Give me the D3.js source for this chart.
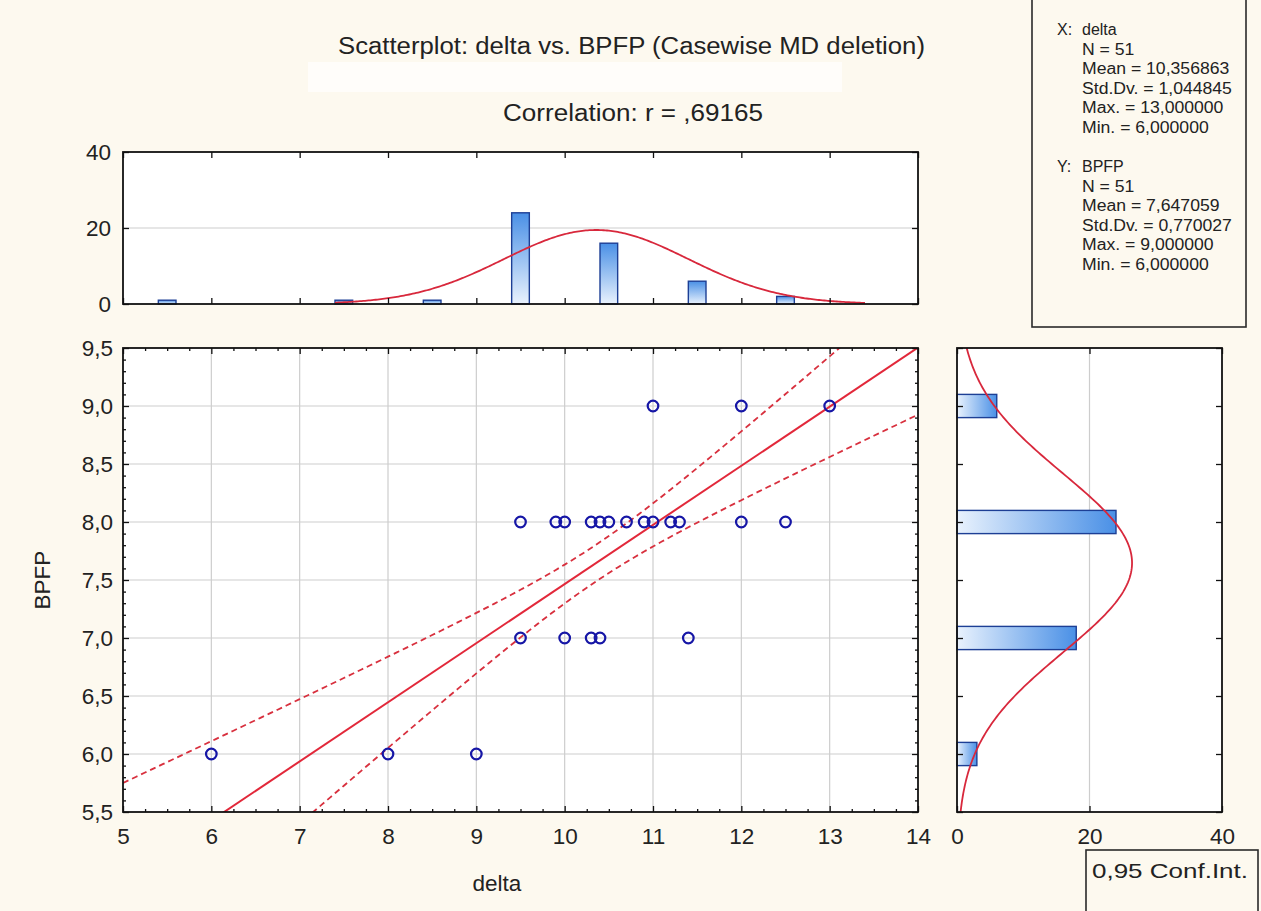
<!DOCTYPE html>
<html><head><meta charset="utf-8">
<script src="https://cdn.jsdelivr.net/npm/d3@7"></script>
<style>
html,body{margin:0;padding:0;background:#fdf9ef;}
svg{display:block;}
text{font-family:"Liberation Sans",Arial,sans-serif;fill:#222;}
</style></head><body>
<svg id="c" width="1261" height="911"></svg>
<script>
// ---------------- data ----------------
const titleText = "Scatterplot: delta vs. BPFP (Casewise MD deletion)";
const corrText = "Correlation: r = ,69165";
const xLabel = "delta";
const yLabel = "BPFP";
const confText = "0,95 Conf.Int.";

const deltaTicks = [5, 6, 7, 8, 9, 10, 11, 12, 13, 14];
const bpfpTicks = [5.5, 6, 6.5, 7, 7.5, 8, 8.5, 9, 9.5];
const countTicks = [0, 20, 40];

const pointDelta = [6, 8, 9,
  9.5, 10, 10.3, 10.4, 11.4,
  9.5, 9.9, 10, 10.3, 10.4, 10.5, 10.7, 10.9, 11, 11.2, 11.3, 12, 12.5,
  11, 12, 13];
const pointBPFP = [6, 6, 6,
  7, 7, 7, 7, 7,
  8, 8, 8, 8, 8, 8, 8, 8, 8, 8, 8, 8, 8,
  9, 9, 9];

const deltaBinCenters = [5.5, 7.5, 8.5, 9.5, 10.5, 11.5, 12.5];
const deltaBinCounts = [1, 1, 1, 24, 16, 6, 2];
const bpfpBinCenters = [6, 7, 8, 9];
const bpfpBinCounts = [3, 18, 24, 6];

const nCases = 51;
const deltaMean = 10.356863, deltaSD = 1.044845;
const bpfpMean = 7.647059, bpfpSD = 0.770027;
const rValue = 0.69165;
const tCrit = 2.0096; // t(0.975, df=49)
const deltaCurveRange = [7.4, 13.4];

const xStatsHead = ["X:", "delta"];
const xStatsLines = ["N = 51", "Mean = 10,356863", "Std.Dv. = 1,044845", "Max. = 13,000000", "Min. = 6,000000"];
const yStatsHead = ["Y:", "BPFP"];
const yStatsLines = ["N = 51", "Mean = 7,647059", "Std.Dv. = 0,770027", "Max. = 9,000000", "Min. = 6,000000"];

// ---------------- layout ----------------
const svg = d3.select("#c");
const M = {x0: 123, x1: 918, y0: 348, y1: 812};
const T = {y0: 152, y1: 304};
const R = {x0: 957, x1: 1222};

const xS = d3.scaleLinear().domain([5, 14]).range([M.x0, M.x1]);
const yS = d3.scaleLinear().domain([5.5, 9.5]).range([M.y1, M.y0]);
const tY = d3.scaleLinear().domain([0, 40]).range([T.y1, T.y0]);
const rX = d3.scaleLinear().domain([0, 40]).range([R.x0, R.x1]);

const comma = v => d3.format(".1f")(v).replace(".", ",");
const RED = "#e2283a";
const GRID = "#cdcdcd";
const FS = 22.5;

const defs = svg.append("defs");
const gV = defs.append("linearGradient").attr("id", "gv").attr("x1", 0).attr("y1", 0).attr("x2", 0).attr("y2", 1);
gV.append("stop").attr("offset", "0%").attr("stop-color", "#4a90e6");
gV.append("stop").attr("offset", "100%").attr("stop-color", "#e9f2fd");
const gH = defs.append("linearGradient").attr("id", "gh").attr("x1", 0).attr("y1", 0).attr("x2", 1).attr("y2", 0);
gH.append("stop").attr("offset", "0%").attr("stop-color", "#e9f2fd");
gH.append("stop").attr("offset", "100%").attr("stop-color", "#4a90e6");
defs.append("clipPath").attr("id", "clipM").append("rect")
  .attr("x", M.x0).attr("y", M.y0).attr("width", M.x1 - M.x0).attr("height", M.y1 - M.y0);
defs.append("clipPath").attr("id", "clipR").append("rect")
  .attr("x", R.x0).attr("y", M.y0).attr("width", R.x1 - R.x0).attr("height", M.y1 - M.y0);
defs.append("clipPath").attr("id", "clipT").append("rect")
  .attr("x", M.x0).attr("y", T.y0).attr("width", M.x1 - M.x0).attr("height", T.y1 - T.y0);

// ---------------- titles ----------------
svg.append("rect").attr("x", 308).attr("y", 62).attr("width", 534).attr("height", 30).attr("fill", "#ffffff").attr("opacity", 0.7);
svg.append("text").attr("x", 338).attr("y", 54).attr("font-size", 23)
  .attr("textLength", 587).attr("lengthAdjust", "spacingAndGlyphs").text(titleText);
svg.append("text").attr("x", 503).attr("y", 121).attr("font-size", 23)
  .attr("textLength", 260).attr("lengthAdjust", "spacingAndGlyphs").text(corrText);

// ---------------- stats box ----------------
svg.append("rect").attr("x", 1032).attr("y", -3).attr("width", 214).attr("height", 330)
  .attr("fill", "#fdf9ef").attr("stroke", "#2a2a2a").attr("stroke-width", 1.6);
function statBlock(head, lines, y0) {
  svg.append("text").attr("x", 1057).attr("y", y0).attr("font-size", 16).text(head[0]);
  svg.append("text").attr("x", 1082).attr("y", y0).attr("font-size", 16).text(head[1]);
  lines.forEach((s, i) => {
    const t = svg.append("text").attr("x", 1082).attr("y", y0 + 19.6 * (i + 1)).attr("font-size", 16).text(s);
    const w = t.node().getComputedTextLength();
    t.attr("textLength", w * 1.1).attr("lengthAdjust", "spacingAndGlyphs");
  });
}
statBlock(xStatsHead, xStatsLines, 35);
statBlock(yStatsHead, yStatsLines, 172);

// ---------------- conf box ----------------
svg.append("rect").attr("x", 1086).attr("y", 850).attr("width", 172).attr("height", 80)
  .attr("fill", "#fdf9ef").attr("stroke", "#2a2a2a").attr("stroke-width", 1.6);
svg.append("text").attr("x", 1092).attr("y", 878).attr("font-size", 21)
  .attr("textLength", 156).attr("lengthAdjust", "spacingAndGlyphs").text(confText);

// ---------------- frames ----------------
function frame(x0, y0, x1, y1) {
  svg.append("rect").attr("x", x0).attr("y", y0).attr("width", x1 - x0).attr("height", y1 - y0)
    .attr("fill", "#ffffff");
}
frame(M.x0, T.y0, M.x1, T.y1);
frame(M.x0, M.y0, M.x1, M.y1);
frame(R.x0, M.y0, R.x1, M.y1);

// ---------------- main scatter ----------------
const gM = svg.append("g");
gM.selectAll(".gx").data(deltaTicks.slice(1, -1)).join("line")
  .attr("x1", d => xS(d)).attr("x2", d => xS(d)).attr("y1", M.y0).attr("y2", M.y1)
  .attr("stroke", GRID).attr("stroke-width", 1.2);
gM.selectAll(".gy").data(bpfpTicks.slice(1, -1)).join("line")
  .attr("y1", d => yS(d)).attr("y2", d => yS(d)).attr("x1", M.x0).attr("x2", M.x1)
  .attr("stroke", GRID).attr("stroke-width", 1.2);

// regression + confidence bands
const slope = rValue * bpfpSD / deltaSD;
const intercept = bpfpMean - slope * deltaMean;
const Sxx = (nCases - 1) * deltaSD * deltaSD;
const se = Math.sqrt((1 - rValue * rValue) * (nCases - 1) * bpfpSD * bpfpSD / (nCases - 2));
const xs = d3.range(5, 14.001, 0.05);
const fit = x => intercept + slope * x;
const hw = x => tCrit * se * Math.sqrt(1 / nCases + (x - deltaMean) ** 2 / Sxx);
const lineGen = d3.line().x(d => xS(d[0])).y(d => yS(d[1]));
const gLines = svg.append("g").attr("clip-path", "url(#clipM)");
gLines.append("path").attr("d", lineGen(xs.map(x => [x, fit(x) + hw(x)])))
  .attr("fill", "none").attr("stroke", "#d8303e").attr("stroke-width", 1.8).attr("stroke-dasharray", "6,4");
gLines.append("path").attr("d", lineGen(xs.map(x => [x, fit(x) - hw(x)])))
  .attr("fill", "none").attr("stroke", "#d8303e").attr("stroke-width", 1.8).attr("stroke-dasharray", "6,4");
gLines.append("path").attr("d", lineGen([[5, fit(5)], [14, fit(14)]]))
  .attr("fill", "none").attr("stroke", RED).attr("stroke-width", 2);

svg.append("g").selectAll("circle").data(pointDelta.map((d, i) => [d, pointBPFP[i]])).join("circle")
  .attr("cx", d => xS(d[0])).attr("cy", d => yS(d[1])).attr("r", 5.3)
  .attr("fill", "none").attr("stroke", "#1616a6").attr("stroke-width", 2.2);

// ---------------- top histogram ----------------
svg.append("line").attr("x1", M.x0).attr("x2", M.x1).attr("y1", tY(20)).attr("y2", tY(20))
  .attr("stroke", GRID).attr("stroke-width", 1.2);
const binW = 0.2;
svg.append("g").selectAll("rect").data(deltaBinCenters.map((c, i) => [c, deltaBinCounts[i]])).join("rect")
  .attr("x", d => xS(d[0] - binW / 2)).attr("width", d => xS(d[0] + binW / 2) - xS(d[0] - binW / 2))
  .attr("y", d => tY(d[1])).attr("height", d => tY(0) - tY(d[1]))
  .attr("fill", "url(#gv)").attr("stroke", "#1d3f95").attr("stroke-width", 1.4);
const pdf = (x, m, s) => Math.exp(-0.5 * ((x - m) / s) ** 2) / (s * Math.sqrt(2 * Math.PI));
const dxs = d3.range(deltaCurveRange[0], deltaCurveRange[1] + 0.001, 0.02);
svg.append("path").attr("clip-path", "url(#clipT)")
  .attr("d", d3.line().x(d => xS(d)).y(d => tY(nCases * 1 * pdf(d, deltaMean, deltaSD)))(dxs))
  .attr("fill", "none").attr("stroke", "#d8283c").attr("stroke-width", 1.8);

// ---------------- right histogram ----------------
svg.append("line").attr("x1", rX(20)).attr("x2", rX(20)).attr("y1", M.y0).attr("y2", M.y1)
  .attr("stroke", GRID).attr("stroke-width", 1.2);
svg.append("g").selectAll("rect").data(bpfpBinCenters.map((c, i) => [c, bpfpBinCounts[i]])).join("rect")
  .attr("y", d => yS(d[0] + binW / 2)).attr("height", d => yS(d[0] - binW / 2) - yS(d[0] + binW / 2))
  .attr("x", rX(0)).attr("width", d => rX(d[1]) - rX(0))
  .attr("fill", "url(#gh)").attr("stroke", "#1d3f95").attr("stroke-width", 1.4);
const bys = d3.range(5.5, 9.501, 0.02);
svg.append("path").attr("clip-path", "url(#clipR)")
  .attr("d", d3.line().y(d => yS(d)).x(d => rX(nCases * 1 * pdf(d, bpfpMean, bpfpSD)))(bys))
  .attr("fill", "none").attr("stroke", "#d8283c").attr("stroke-width", 1.8);

// ---------------- axes ----------------
function styleAxis(g, fs) {
  g.select(".domain").remove();
  g.selectAll("line").attr("stroke", "#111").attr("stroke-width", 1.3);
  g.selectAll("text").attr("font-size", fs).attr("fill", "#222")
    .style("font-family", '"Liberation Sans",Arial,sans-serif');
}
const minorX = d3.range(5, 14.001, 0.25).filter(v => Math.abs(v - Math.round(v)) > 1e-6);
const minorY = d3.range(5.5, 9.501, 0.1).map(v => +v.toFixed(2)).filter(v => Math.abs(v * 2 - Math.round(v * 2)) > 1e-6);

// main bottom
svg.append("g").attr("transform", `translate(0,${M.y1})`)
  .call(d3.axisBottom(xS).tickValues(deltaTicks).tickFormat(d3.format("d")).tickSize(-6).tickPadding(16))
  .call(g => styleAxis(g, FS));
svg.append("g").attr("transform", `translate(0,${M.y1})`)
  .call(d3.axisBottom(xS).tickValues(minorX).tickFormat("").tickSize(-3)).call(g => styleAxis(g, FS));
// main top
svg.append("g").attr("transform", `translate(0,${M.y0})`)
  .call(d3.axisTop(xS).tickValues(deltaTicks).tickFormat("").tickSize(-6)).call(g => styleAxis(g, FS));
svg.append("g").attr("transform", `translate(0,${M.y0})`)
  .call(d3.axisTop(xS).tickValues(minorX).tickFormat("").tickSize(-3)).call(g => styleAxis(g, FS));
// main left
svg.append("g").attr("transform", `translate(${M.x0},0)`)
  .call(d3.axisLeft(yS).tickValues(bpfpTicks).tickFormat(comma).tickSize(-6).tickPadding(10))
  .call(g => styleAxis(g, FS));
svg.append("g").attr("transform", `translate(${M.x0},0)`)
  .call(d3.axisLeft(yS).tickValues(minorY).tickFormat("").tickSize(-3)).call(g => styleAxis(g, FS));
// main right
svg.append("g").attr("transform", `translate(${M.x1},0)`)
  .call(d3.axisRight(yS).tickValues(bpfpTicks).tickFormat("").tickSize(-6)).call(g => styleAxis(g, FS));
svg.append("g").attr("transform", `translate(${M.x1},0)`)
  .call(d3.axisRight(yS).tickValues(minorY).tickFormat("").tickSize(-3)).call(g => styleAxis(g, FS));

// top hist axes
svg.append("g").attr("transform", `translate(0,${T.y1})`)
  .call(d3.axisBottom(xS).tickValues(deltaTicks).tickFormat("").tickSize(-6)).call(g => styleAxis(g, FS));
svg.append("g").attr("transform", `translate(0,${T.y0})`)
  .call(d3.axisTop(xS).tickValues(deltaTicks).tickFormat("").tickSize(-6)).call(g => styleAxis(g, FS));
svg.append("g").attr("transform", `translate(${M.x0},0)`)
  .call(d3.axisLeft(tY).tickValues(countTicks).tickFormat(d3.format("d")).tickSize(-6).tickPadding(12))
  .call(g => styleAxis(g, FS));
svg.append("g").attr("transform", `translate(${M.x1},0)`)
  .call(d3.axisRight(tY).tickValues(countTicks).tickFormat("").tickSize(-6)).call(g => styleAxis(g, FS));

// right hist axes
svg.append("g").attr("transform", `translate(0,${M.y1})`)
  .call(d3.axisBottom(rX).tickValues(countTicks).tickFormat(d3.format("d")).tickSize(-6).tickPadding(16))
  .call(g => styleAxis(g, FS));
svg.append("g").attr("transform", `translate(0,${M.y0})`)
  .call(d3.axisTop(rX).tickValues(countTicks).tickFormat("").tickSize(-6)).call(g => styleAxis(g, FS));
svg.append("g").attr("transform", `translate(${R.x0},0)`)
  .call(d3.axisLeft(yS).tickValues(bpfpTicks).tickFormat("").tickSize(-6)).call(g => styleAxis(g, FS));
svg.append("g").attr("transform", `translate(${R.x1},0)`)
  .call(d3.axisRight(yS).tickValues(bpfpTicks).tickFormat("").tickSize(-6)).call(g => styleAxis(g, FS));

// frame borders on top
[[M.x0, T.y0, M.x1, T.y1], [M.x0, M.y0, M.x1, M.y1], [R.x0, M.y0, R.x1, M.y1]].forEach(b => {
  svg.append("rect").attr("x", b[0]).attr("y", b[1]).attr("width", b[2] - b[0]).attr("height", b[3] - b[1])
    .attr("fill", "none").attr("stroke", "#111").attr("stroke-width", 1.8);
});

// axis titles
svg.append("text").attr("x", 497).attr("y", 891).attr("text-anchor", "middle").attr("font-size", 22.5).text(xLabel);
svg.append("text").attr("transform", "translate(50,580) rotate(-90)").attr("text-anchor", "middle")
  .attr("font-size", 22.5).text(yLabel);
</script>
</body></html>
